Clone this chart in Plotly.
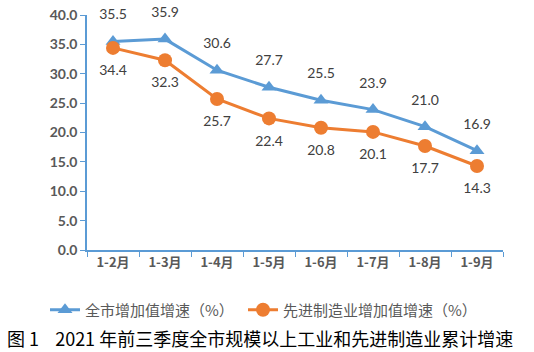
import plotly.graph_objects as go

categories = ["1-2月", "1-3月", "1-4月", "1-5月", "1-6月", "1-7月", "1-8月", "1-9月"]
city_growth = [35.5, 35.9, 30.6, 27.7, 25.5, 23.9, 21.0, 16.9]
adv_growth = [34.4, 32.3, 25.7, 22.4, 20.8, 20.1, 17.7, 14.3]
y_ticks = [0, 5, 10, 15, 20, 25, 30, 35, 40]
title_text = "图 1    2021 年前三季度全市规模以上工业和先进制造业累计增速"

BLUE = "#5B9BD5"
ORANGE = "#ED7D31"
FONT = "Lato, 'Noto Sans CJK SC', sans-serif"
CJK = "'Noto Sans CJK SC', sans-serif"
LABEL_FONT = dict(family=FONT, size=14, color="#404040")

fig = go.Figure()
fig.add_trace(go.Scatter(
    x=categories, y=city_growth, name="全市增加值增速（%）",
    mode="lines+markers", cliponaxis=False,
    line=dict(color=BLUE, width=3),
    marker=dict(symbol="triangle-up", size=13, color=BLUE),
    legend="legend",
))
fig.add_trace(go.Scatter(
    x=categories, y=adv_growth, name="先进制造业增加值增速（%）",
    mode="lines+markers", cliponaxis=False,
    line=dict(color=ORANGE, width=3),
    marker=dict(symbol="circle", size=14, color=ORANGE),
    legend="legend2",
))
# data labels (invisible larger markers give the label offset)
fig.add_trace(go.Scatter(
    x=categories, y=city_growth, mode="markers+text", showlegend=False,
    cliponaxis=False,
    marker=dict(size=28, opacity=0), hoverinfo="skip",
    text=[f"{v:.1f}" for v in city_growth], textposition="top center",
    textfont=LABEL_FONT,
))
fig.add_trace(go.Scatter(
    x=categories, y=adv_growth, mode="markers+text", showlegend=False,
    cliponaxis=False,
    marker=dict(size=25, opacity=0), hoverinfo="skip",
    text=[f"{v:.1f}" for v in adv_growth], textposition="bottom center",
    textfont=LABEL_FONT,
))

leg_font = dict(family=CJK, size=15, color="#595959")
fig.update_layout(
    width=534, height=352,
    margin=dict(l=87, r=31, t=15, b=102, autoexpand=False),
    paper_bgcolor="white", plot_bgcolor="white",
    showlegend=True,
    legend=dict(orientation="h", xref="container", yref="container",
                x=45/534, xanchor="left", y=1 - 310/352, yanchor="middle",
                font=leg_font, itemwidth=30, bgcolor="rgba(0,0,0,0)"),
    legend2=dict(orientation="h", xref="container", yref="container",
                 x=243/534, xanchor="left", y=1 - 310/352, yanchor="middle",
                 font=leg_font, itemwidth=30, bgcolor="rgba(0,0,0,0)"),
    xaxis=dict(
        type="category", showgrid=False, automargin=False,
        showline=True, linecolor=BLUE, linewidth=1.5,
        ticks="outside", tickson="boundaries", ticklen=5, tickcolor=BLUE,
        tickfont=dict(family=CJK, size=13, color="#595959", weight="bold"),
        range=[-0.5, 7.5],
    ),
    yaxis=dict(
        range=[0, 40], tickvals=y_ticks, automargin=False,
        ticktext=[f"{v:.1f}" for v in y_ticks],
        showgrid=False, zeroline=False,
        showline=True, linecolor=BLUE, linewidth=1.5,
        ticks="outside", ticklen=5, tickcolor=BLUE,
        tickfont=dict(family=FONT, size=14, color="#595959", weight="bold"),
    ),
    annotations=[dict(
        text=title_text, xref="paper", yref="paper",
        x=-82/416, xanchor="left", y=-(338-250)/235, yanchor="middle",
        showarrow=False,
        font=dict(family=CJK, size=18, color="#000000"),
    )],
)

fig.write_html("out.html")
